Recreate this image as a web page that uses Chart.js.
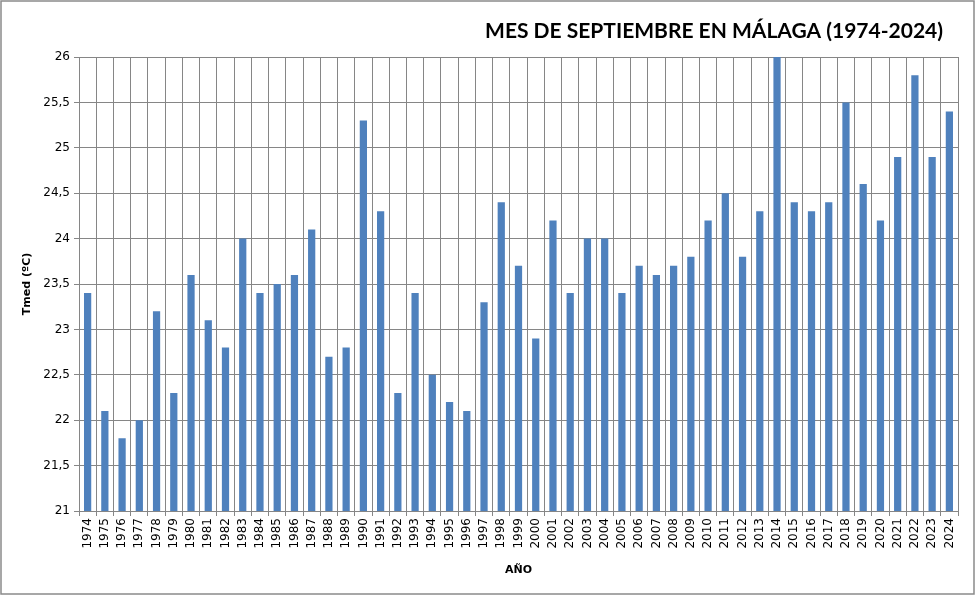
<!DOCTYPE html>
<html>
<head>
<meta charset="utf-8">
<script src="https://cdn.jsdelivr.net/npm/chart.js@4"></script>
<style>
  body { margin: 0; background: #fff; }
</style>
</head>
<body>
<canvas id="chart" width="975" height="595"></canvas>
<script>
const years = ['1974', '1975', '1976', '1977', '1978', '1979', '1980', '1981', '1982', '1983',
    '1984', '1985', '1986', '1987', '1988', '1989', '1990', '1991', '1992', '1993',
    '1994', '1995', '1996', '1997', '1998', '1999', '2000', '2001', '2002', '2003',
    '2004', '2005', '2006', '2007', '2008', '2009', '2010', '2011', '2012', '2013',
    '2014', '2015', '2016', '2017', '2018', '2019', '2020', '2021', '2022', '2023', '2024'];

const tmed = [23.4, 22.1, 21.8, 22.0, 23.2, 22.3, 23.6, 23.1, 22.8, 24.0,
    23.4, 23.5, 23.6, 24.1, 22.7, 22.8, 25.3, 24.3, 22.3, 23.4,
    22.5, 22.2, 22.1, 23.3, 24.4, 23.7, 22.9, 24.2, 23.4, 24.0,
    24.0, 23.4, 23.7, 23.6, 23.7, 23.8, 24.2, 24.5, 23.8, 24.3,
    26.0, 24.4, 24.3, 24.4, 25.5, 24.6, 24.2, 24.9, 25.8, 24.9, 25.4];

const yMin = 21;
const yMax = 26;
const yStep = 0.5;

const chartTitle = 'MES DE SEPTIEMBRE EN MÁLAGA (1974-2024)';
const gridColor = '#868686';

// title and outer frame
const decor = {
    id: 'decor',
    beforeDraw(chart) {
        const c = chart.ctx;
        c.save();
        c.fillStyle = '#fff';
        c.fillRect(0, 0, chart.width, chart.height);
        c.restore();
    },
    afterDraw(chart) {
        const c = chart.ctx;
        c.save();
        c.strokeStyle = '#8a8a8a';
        c.lineWidth = 1.5;
        c.strokeRect(1, 1, chart.width - 2, chart.height - 2);
        c.font = 'bold 21px Lato';
        c.fillStyle = '#000';
        c.textAlign = 'right';
        c.textBaseline = 'middle';
        c.fillText(chartTitle, 943, 31);
        c.restore();
    }
};

const ctx = document.getElementById('chart').getContext('2d');
new Chart(ctx, {
    type: 'bar',
    data: {
        labels: years,
        datasets: [{
            label: 'Tmed',
            data: tmed,
            backgroundColor: '#4f81bd',
            borderWidth: 0,
            categoryPercentage: 1,
            barPercentage: 0.42
        }]
    },
    options: {
        responsive: false,
        animation: false,
        devicePixelRatio: 1,
        layout: {
            padding: { left: 14, right: 17, top: 57, bottom: 18 }
        },
        plugins: {
            legend: { display: false },
            tooltip: { enabled: false }
        },
        scales: {
            x: {
                grid: { color: gridColor, lineWidth: 1, tickLength: 5, offset: true },
                border: { color: gridColor },
                ticks: {
                    color: '#000',
                    font: { family: 'DejaVu Sans', size: 12 },
                    maxRotation: 90,
                    minRotation: 90,
                    autoSkip: false,
                    padding: 2
                },
                title: {
                    display: true,
                    text: 'AÑO',
                    color: '#000',
                    font: { family: 'DejaVu Sans', size: 11, weight: 'bold' },
                    padding: { top: 4, bottom: 0 }
                },
                afterFit(axis) { axis.height = 66; }
            },
            y: {
                min: yMin,
                max: yMax,
                grid: { color: gridColor, lineWidth: 1, tickLength: 5 },
                border: { color: gridColor },
                ticks: {
                    stepSize: yStep,
                    color: '#000',
                    font: { family: 'DejaVu Sans', size: 12 },
                    padding: 4,
                    callback: (v) => String(v).replace('.', ',')
                },
                title: {
                    display: true,
                    text: 'Tmed (ºC)',
                    color: '#000',
                    font: { family: 'DejaVu Sans', size: 11, weight: 'bold' },
                    padding: { top: 7, bottom: 0 }
                },
                afterFit(axis) { axis.width = 65; }
            }
        }
    },
    plugins: [decor]
});
</script>
</body>
</html>
